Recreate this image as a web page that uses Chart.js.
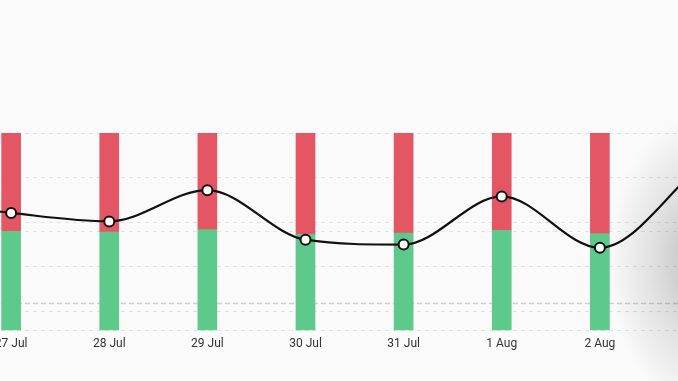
<!DOCTYPE html>
<html>
<head>
<meta charset="utf-8">
<script src="https://cdn.jsdelivr.net/npm/chart.js@4.4.0/dist/chart.umd.min.js"></script>
<style>
  html, body { margin: 0; padding: 0; background: #fafafa; overflow: hidden; }
  body { width: 678px; height: 381px; position: relative; }
  #wrap { position: absolute; top: 0; left: -117px; width: 845px; height: 381px; }
  #shade {
    position: absolute; top: 0; left: 0; width: 678px; height: 381px; pointer-events: none;
    background: radial-gradient(ellipse 100px 150px at 708px 262px, rgba(0,0,0,0.26), rgba(0,0,0,0.10) 55%, rgba(0,0,0,0) 100%);
  }
</style>
</head>
<body>
<div id="wrap"><canvas id="mixChart"></canvas></div>
<div id="shade"></div>
<script>
// days (first and last sit just outside the visible window)
const days = ['26 Jul', '27 Jul', '28 Jul', '29 Jul', '30 Jul', '31 Jul', '1 Aug', '2 Aug', '3 Aug'];

// share of each day, in percent (green bottom, red top)
const greenShare = [50, 50.3, 49.9, 51.1, 48.7, 49.4, 50.8, 49.1, 50];
const redShare = [50, 49.7, 50.1, 48.9, 51.3, 50.6, 49.2, 50.9, 50];

// line series on the right scale
const trend = [2.49, 2.21, 2.02, 2.72, 1.61, 1.50, 2.58, 1.43, 3.2];

// dashed reference level on the right scale
const refLevel = 0.18;

const gridColor = '#e3e3e3';

document.addEventListener('DOMContentLoaded', function() {
    const ctx = document.getElementById('mixChart');

    new Chart(ctx, {
        type: 'bar',
        data: {
            labels: days,
            datasets: [{
                type: 'line',
                label: 'Trend',
                data: trend,
                yAxisID: 'y1',
                borderColor: '#111',
                borderWidth: 2.2,
                cubicInterpolationMode: 'monotone',
                pointRadius: 5,
                pointBorderWidth: 2,
                pointBackgroundColor: '#fff',
                pointBorderColor: '#111',
                order: 0
            }, {
                label: 'Green',
                data: greenShare,
                backgroundColor: '#5dc98a',
                barThickness: 19,
                order: 1
            }, {
                label: 'Red',
                data: redShare,
                backgroundColor: '#e45664',
                barThickness: 19,
                order: 1
            }, {
                type: 'line',
                label: 'Reference',
                data: days.map(function() { return refLevel; }),
                yAxisID: 'y1',
                borderColor: '#cfcfcf',
                borderWidth: 1.5,
                borderDash: [5, 3],
                pointRadius: 0,
                order: 2
            }]
        },
        options: {
            responsive: true,
            maintainAspectRatio: false,
            animation: false,
            layout: {
                padding: { top: 133, left: 30, right: 30, bottom: 24 }
            },
            plugins: {
                legend: { display: false },
                tooltip: { enabled: false }
            },
            scales: {
                x: {
                    stacked: true,
                    offset: false,
                    grid: { display: false, drawTicks: false },
                    border: { display: false },
                    ticks: {
                        color: '#333',
                        padding: 6,
                        font: { family: 'Roboto', size: 12 }
                    }
                },
                y: {
                    stacked: true,
                    min: 0,
                    max: 100,
                    ticks: { display: false, stepSize: 50 },
                    grid: { color: gridColor, drawTicks: false },
                    border: { display: false, dash: [4, 4] }
                },
                y1: {
                    position: 'right',
                    min: -0.426,
                    max: 4,
                    ticks: { display: false, stepSize: 1 },
                    grid: { color: gridColor, drawTicks: false },
                    border: { display: false, dash: [4, 4] }
                }
            }
        }
    });
});
</script>
</body>
</html>
